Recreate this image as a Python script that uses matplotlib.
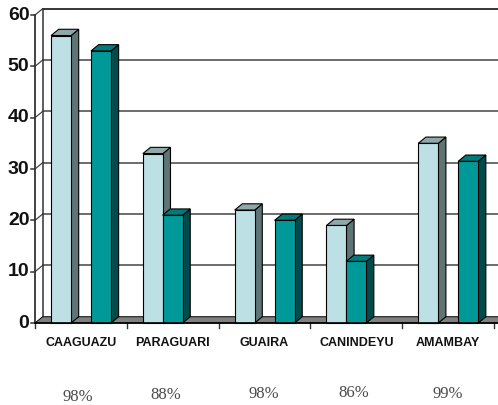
import matplotlib
matplotlib.use("Agg")
import matplotlib.pyplot as plt
from matplotlib.patches import Polygon

regioes = ["CAAGUAZU", "PARAGUARI", "GUAIRA", "CANINDEYU", "AMAMBAY"]
serie_clara = [56, 33, 22, 19, 35]
serie_escura = [53, 21, 20, 12, 31.5]
percentuais = ["98%", "88%", "98%", "86%", "99%"]
yticks = [0, 10, 20, 30, 40, 50, 60]

# posicao da barra escura dentro da categoria (algumas ficam coladas na clara)
desloc_escura = [0.61, 0.39, 0.61, 0.39, 0.61]
desloc_clara = 0.175
largura = 0.218

# profundidade do efeito 3D em unidades de dados
dx = 0.083
dy = 1.22

fig = plt.figure(figsize=(4.98, 4.05), dpi=100)
# eixo: x 35..494 px, y 323..15 px
ax = fig.add_axes([35 / 498, (405 - 323) / 405, 459 / 498, 308 / 405])
ax.set_xlim(0, 5)
ax.set_ylim(0, 60)
ax.axis("off")


def poligono(pts, cor, lw=0.8, z=3):
    ax.add_patch(Polygon(pts, closed=True, facecolor=cor, edgecolor="black",
                         linewidth=lw, clip_on=False, zorder=z, joinstyle="miter"))


def barra(x, v, frente, lado, topo, z):
    w = largura
    poligono([(x + w, 0), (x + w + dx, dy), (x + w + dx, v + dy), (x + w, v)], lado, z=z)
    poligono([(x, v), (x + dx, v + dy), (x + w + dx, v + dy), (x + w, v)], topo, z=z)
    poligono([(x, 0), (x + w, 0), (x + w, v), (x, v)], frente, z=z)


# Grade na parede do fundo e na parede lateral
for t in yticks[1:]:
    cor = "black" if t == 60 else "#444444"
    ax.plot([dx, 5.05], [t + dy, t + dy], color=cor, lw=1.1, clip_on=False, zorder=1)
    ax.plot([0, dx], [t, t + dy], color="#444444", lw=0.9, clip_on=False, zorder=1)
    ax.plot([-0.045, 0], [t, t], color="#333333", lw=1.1, clip_on=False, zorder=1)
ax.plot([-0.045, 0], [0, 0], color="#333333", lw=1.1, clip_on=False, zorder=1)

ax.plot([dx, dx], [dy, 60 + dy], color="#333333", lw=1.1, clip_on=False, zorder=1)
ax.plot([0, 0], [0, 60], color="#333333", lw=1.3, clip_on=False, zorder=2)

# Chao cinza
poligono([(0, 0), (dx, dy), (5.05, dy), (5.05, 0)], "#808080", lw=0.7, z=2)

# Barras
for i in range(len(regioes)):
    barra(i + desloc_clara, serie_clara[i], "#BCE0E4", "#5F7475", "#8FA9AB", 4 + i * 2)
    barra(i + desloc_escura[i], serie_escura[i], "#009999", "#004C4C", "#007A7A", 5 + i * 2)

ax.plot([0, 5.05], [0, 0], color="black", lw=1.2, clip_on=False, zorder=30)

# Ticks do eixo x
for i in range(6):
    ax.plot([i, i], [0, -1], color="#333333", lw=1.0, clip_on=False, zorder=1)

for t in yticks:
    ax.text(-0.06, t, str(t), ha="right", va="center", fontsize=14,
            fontweight="bold", family="Liberation Sans", color="#111111")

for i, nome in enumerate(regioes):
    ax.text(i + 0.5, -3.9, nome, ha="center", va="center", fontsize=9,
            fontweight="bold", family="Liberation Sans", color="#111111")

# Percentuais abaixo
pos_x = [78, 166, 264, 354, 448]
pos_y = [397, 395, 394, 393, 394]
for x, y, txt in zip(pos_x, pos_y, percentuais):
    fig.text(x / 498, 1 - y / 405, txt, ha="center", va="center", fontsize=12,
             family="Liberation Serif", color="#4a4a4a")

fig.savefig("out.png", dpi=100)
